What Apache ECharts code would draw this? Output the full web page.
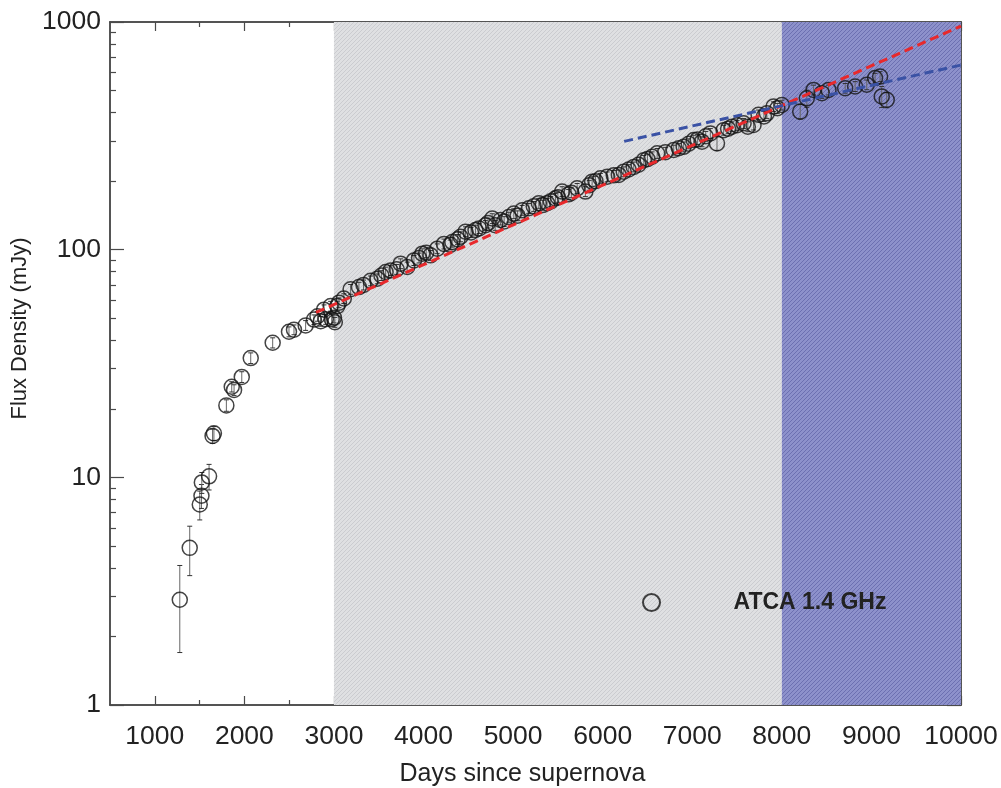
<!DOCTYPE html>
<html>
<head>
<meta charset="utf-8">
<script src="https://cdn.jsdelivr.net/npm/echarts@6/dist/echarts.min.js"></script>
<style>
html, body { margin: 0; padding: 0; background: #fff; }
#chart { width: 1001px; height: 788px; }
</style>
</head>
<body>
<div id="chart"></div>
<script>
// ATCA 1.4 GHz light curve
var days = [1279, 1390, 1502, 1521, 1525, 1606, 1645, 1660, 1799, 1859, 1885, 1971, 2071, 2316, 2498, 2554, 2684, 2777, 2816, 2852,
    2889, 2908, 2963, 2975, 3000, 3010, 3038, 3056, 3110, 3186, 3279, 3330, 3409, 3484, 3530, 3577, 3632, 3700, 3744, 3818,
    3893, 3950, 3986, 4030, 4078, 4153, 4228, 4300, 4321, 4380, 4413, 4469, 4530, 4580, 4620, 4692, 4720, 4767, 4800, 4859,
    4900, 4952, 5008, 5050, 5101, 5175, 5230, 5287, 5330, 5380, 5420, 5473, 5500, 5547, 5620, 5650, 5715, 5807, 5850, 5882,
    5920, 5975, 6050, 6123, 6180, 6235, 6290, 6347, 6400, 6459, 6500, 6552, 6608, 6700, 6793, 6850, 6904, 6960, 7016, 7060,
    7109, 7150, 7202, 7276, 7350, 7400, 7443, 7500, 7573, 7620, 7684, 7740, 7800, 7833, 7907, 7950, 8000, 8205, 8279, 8354,
    8447, 8521, 8707, 8818, 8948, 9041, 9097, 9115, 9171];
var flux = [2.9, 4.9, 7.6, 8.3, 9.5, 10.1, 15.2, 15.6, 20.7, 25.0, 24.2, 27.6, 33.4, 39.0, 43.6, 44.5, 46.5, 49.3, 51.0, 48.5,
    54.5, 49.5, 56.5, 49.5, 50.2, 48.0, 56.5, 58.5, 61, 67, 68.5, 70, 73, 74.5, 77, 79.8, 81, 82, 86.8, 84,
    89.7, 92, 96, 97, 94.4, 101, 106, 105, 108, 111, 114, 120, 119, 122, 124, 128, 131, 137, 128, 135,
    133, 139, 144, 141, 149, 152, 155, 160, 157, 160, 163, 168, 170, 180, 175, 178, 186, 180, 192, 199,
    200, 206, 209, 212, 213, 220, 225, 231, 236, 247, 250, 256, 265, 268, 274, 279, 283, 292, 303, 305,
    298, 315, 324, 293, 335, 340, 347, 352, 359, 347, 353, 391, 385, 397, 425, 418, 432, 404, 462, 503,
    487, 503, 512, 521, 530, 567, 576, 471, 455];
var fluxErr = [1.2, 1.2, 1.1, 1.0, 1.0, 1.3, 1.1, 1.1, 1.2, 1.3, 1.3, 1.5, 1.8, 2.0, 2.2, 2.2, 2.3, 2.4, 2.5, 2.4,
    2.7, 2.5, 2.8, 2.5, 2.5, 2.4, 2.8, 2.9, 3.0, 3.3, 3.4, 3.5, 3.6, 3.7, 3.8, 4.0, 4.0, 4.1, 4.3, 4.2,
    4.5, 4.6, 4.8, 4.8, 4.7, 5.0, 5.3, 5.2, 5.4, 5.5, 5.7, 6.0, 6.0, 6.1, 6.2, 6.4, 6.5, 6.8, 6.4, 6.7,
    6.6, 7.0, 7.2, 7.0, 7.4, 7.6, 7.7, 8.0, 7.8, 8.0, 8.1, 8.4, 8.5, 9.0, 8.7, 8.9, 9.3, 9.0, 9.6, 10,
    10, 10.3, 10.4, 10.6, 10.6, 11, 11.2, 11.5, 11.8, 12.3, 12.5, 12.8, 13.2, 13.4, 13.7, 14, 14.1, 14.6, 15.1, 15.2,
    14.9, 15.7, 16.2, 20, 16.7, 17, 17.3, 17.6, 18, 17.3, 17.6, 19.5, 19.2, 19.8, 21, 21, 21.6, 30, 40, 25,
    25, 25, 25, 26, 26, 28, 29, 50, 35];

// fitted trends
var redFitDays = [2800, 10000];
var redFitFlux = [53, 960];
var blueFitDays = [6240, 10000];
var blueFitFlux = [299, 647];

// shaded epochs
var grayEpoch = [3000, 8000];
var blueEpoch = [8000, 10000];

var xTickLabels = [1000, 2000, 3000, 4000, 5000, 6000, 7000, 8000, 9000, 10000];
var xMinorTicks = [1500, 2500, 3500, 4500, 5500, 6500, 7500, 8500, 9500];
var yTickLabels = [1, 10, 100, 1000];
var yMinorTicks = [2, 3, 4, 5, 6, 7, 8, 9, 20, 30, 40, 50, 60, 70, 80, 90, 200, 300, 400, 500, 600, 700, 800, 900];

var FONT = '"Liberation Sans", Arial, sans-serif';

function hatch(base, stripe) {
    var c = document.createElement('canvas');
    c.width = 4; c.height = 4;
    var g = c.getContext('2d');
    g.fillStyle = base;
    g.fillRect(0, 0, 4, 4);
    g.strokeStyle = stripe;
    g.lineWidth = 1;
    g.beginPath();
    g.moveTo(0, 4); g.lineTo(4, 0);
    g.stroke();
    return { image: c, repeat: 'repeat' };
}

var points = days.map(function (d, i) { return [d, flux[i]]; });
var bars = days.map(function (d, i) { return [d, flux[i] - fluxErr[i], flux[i] + fluxErr[i]]; });
var redFit = redFitDays.map(function (d, i) { return [d, redFitFlux[i]]; });
var blueFit = blueFitDays.map(function (d, i) { return [d, blueFitFlux[i]]; });

var lineCol = '#4a4a4a';
var gridRect = { left: 110, right: 40, top: 22, bottom: 83, containLabel: false, outerBoundsMode: 'none' };
var plain = function (v) { return String(v); };

function xAx(gridIndex, position, ticks, len, withLabels) {
    return {
        type: 'value', gridIndex: gridIndex, position: position, min: 500, max: 10000,
        axisLine: { show: true, onZero: false, lineStyle: { color: lineCol, width: 1.5 } },
        axisTick: { show: true, inside: true, length: len, customValues: ticks, lineStyle: { color: lineCol, width: 1.2 } },
        axisLabel: withLabels ? { customValues: ticks, formatter: plain, fontSize: 26.5, color: '#222', margin: 18, fontFamily: FONT } : { show: false },
        splitLine: { show: false }
    };
}
function yAx(gridIndex, position, ticks, len, withLabels) {
    return {
        type: 'log', logBase: 10, gridIndex: gridIndex, position: position, min: 1, max: 1000,
        axisLine: { show: true, onZero: false, lineStyle: { color: lineCol, width: 1.5 } },
        axisTick: { show: true, inside: true, length: len, customValues: ticks, lineStyle: { color: lineCol, width: 1.2 } },
        axisLabel: withLabels ? { customValues: ticks, formatter: plain, fontSize: 26.5, color: '#222', margin: 9, fontFamily: FONT } : { show: false },
        splitLine: { show: false },
        minorTick: { show: false }
    };
}

var xMain = xAx(0, 'bottom', xTickLabels, 9, true);
xMain.name = 'Days since supernova';
xMain.nameLocation = 'middle';
xMain.nameGap = 57;
xMain.nameTextStyle = { fontSize: 25, color: '#222', fontFamily: FONT, padding: [0, 26, 0, 0] };

var yMain = yAx(0, 'left', yTickLabels, 14, true);
yMain.name = 'Flux Density (mJy)';
yMain.nameLocation = 'middle';
yMain.nameGap = 76;
yMain.nameTextStyle = { fontSize: 22, color: '#222', fontFamily: FONT, padding: [0, 0, 0, 70] };

var chart = echarts.init(document.getElementById('chart'), null, { renderer: 'canvas' });
chart.setOption({
    animation: false,
    backgroundColor: '#fff',
    grid: [gridRect, gridRect],
    xAxis: [
        xMain,
        xAx(0, 'top', xTickLabels, 9, false),
        xAx(1, 'bottom', xMinorTicks, 5, false),
        xAx(1, 'top', xMinorTicks, 5, false)
    ],
    yAxis: [
        yMain,
        yAx(0, 'right', yTickLabels, 14, false),
        yAx(1, 'left', yMinorTicks, 6, false),
        yAx(1, 'right', yMinorTicks, 6, false)
    ],
    legend: {
        data: ['ATCA 1.4 GHz'],
        left: 637, top: 586,
        itemWidth: 17, itemHeight: 17,
        icon: 'circle',
        textStyle: { fontSize: 23, fontWeight: 'bold', color: '#222', fontFamily: FONT, padding: [0, 0, 0, 68.5] }
    },
    series: [
        {
            type: 'line', name: 'epochs', xAxisIndex: 0, yAxisIndex: 0, z: 0,
            data: [[3000, 10], [8000, 10]], showSymbol: false, lineStyle: { opacity: 0 }, silent: true,
            markArea: {
                silent: true,
                data: [
                    [{ xAxis: grayEpoch[0], itemStyle: { color: hatch('#dfe0e2', '#cbccd0') } }, { xAxis: grayEpoch[1] }],
                    [{ xAxis: blueEpoch[0], itemStyle: { color: hatch('#8d91cb', '#6c70b1') } }, { xAxis: blueEpoch[1] }]
                ]
            }
        },
        {
            type: 'custom', name: 'errors', xAxisIndex: 0, yAxisIndex: 0, z: 3,
            data: bars,
            encode: { x: 0, y: [1, 2] },
            renderItem: function (params, api) {
                var x = api.value(0);
                var lo = api.coord([x, api.value(1)]);
                var hi = api.coord([x, api.value(2)]);
                var w = 2.5;
                var st = { stroke: '#333', lineWidth: 1 };
                return {
                    type: 'group',
                    children: [
                        { type: 'line', shape: { x1: lo[0], y1: lo[1], x2: hi[0], y2: hi[1] }, style: { stroke: '#666', lineWidth: 1 } },
                        { type: 'line', shape: { x1: lo[0] - w, y1: lo[1], x2: lo[0] + w, y2: lo[1] }, style: st },
                        { type: 'line', shape: { x1: hi[0] - w, y1: hi[1], x2: hi[0] + w, y2: hi[1] }, style: st }
                    ]
                };
            }
        },
        {
            type: 'scatter', name: 'ATCA 1.4 GHz', xAxisIndex: 0, yAxisIndex: 0, z: 4,
            data: points,
            symbol: 'circle', symbolSize: 15,
            itemStyle: { color: 'rgba(0,0,0,0)', borderColor: '#151515', borderWidth: 1.5 }
        },
        {
            type: 'line', name: 'red fit', xAxisIndex: 0, yAxisIndex: 0, z: 5,
            data: redFit, showSymbol: false,
            lineStyle: { color: '#e8292c', width: 3, type: [9, 5] }
        },
        {
            type: 'line', name: 'blue fit', xAxisIndex: 0, yAxisIndex: 0, z: 5,
            data: blueFit, showSymbol: false,
            lineStyle: { color: '#3a52a5', width: 3, type: [9, 5] }
        }
    ]
});
</script>
</body>
</html>
